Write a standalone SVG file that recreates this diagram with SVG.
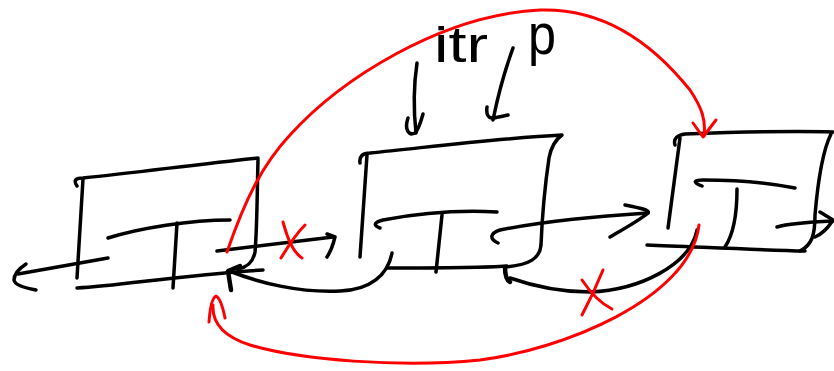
<svg xmlns="http://www.w3.org/2000/svg" width="834" height="371" viewBox="0 0 834 371">
<style>
.k{fill:none;stroke:#000;stroke-width:3.5;stroke-linecap:round;stroke-linejoin:round}
.r{fill:none;stroke:#f00;stroke-width:3;stroke-linecap:round;stroke-linejoin:round}
.t{font-family:"Liberation Sans","DejaVu Sans",sans-serif;fill:#000}
</style>
<rect width="834" height="371" fill="#fff"/>
<g id="node1">
<path class="k" d="M77,186 C73,180 76,178 83,178 C140,172 200,164 258,158"/>
<path class="k" d="M83,179 L77,278"/>
<path class="k" d="M258,160 C257,200 257,230 255,252 C253,262 248,267 238,269"/>
<path class="k" d="M77,288 C120,286 180,275 263,270"/>
<path class="k" d="M108,238 C140,228 190,220 230,220"/>
<path class="k" d="M177,223 L173,288"/>
</g>
<g id="node2">
<path class="k" d="M360,163 C359,156 363,153 370,153 C430,147 500,138 562,135 C555,140 551,147 549,158 C545,185 542,220 541,245 C540,258 530,265 505,267"/>
<path class="k" d="M367,155 L360,257"/>
<path class="k" d="M388,268 C430,268 480,268 507,266"/>
<path class="k" d="M380,228 C372,225 375,222 383,220 C420,213 460,210 497,212"/>
<path class="k" d="M442,215 L436,272"/>
</g>
<g id="node3">
<path class="k" d="M675,145 C673,138 678,135 685,134 C740,132 800,131 833,132"/>
<path class="k" d="M831,134 C823,150 818,180 815,215 C815,235 812,245 800,251"/>
<path class="k" d="M680,138 L668,228"/>
<path class="k" d="M647,245 C700,247 760,250 805,251"/>
<path class="k" d="M702,186 C692,182 694,180 703,180 C740,180 770,183 795,188"/>
<path class="k" d="M737,189 C737,215 733,235 725,247"/>
</g>
<g id="labels">
<text class="t" x="434" y="62" font-size="50" textLength="54" lengthAdjust="spacingAndGlyphs">itr</text>
<text class="t" x="528" y="54" font-size="58" textLength="28" lengthAdjust="spacingAndGlyphs">p</text>
</g>
<g id="connectors">
<path class="k" d="M108,258 L18,274"/>
<path class="k" d="M26,264 C20,268 14,274 14,280 C15,285 22,287 36,290"/>
<path class="k" d="M217,251 L333,237"/>
<path class="k" d="M327,234 L335,237 C333,245 331,251 327,257"/>
<path class="k" d="M392,253 C388,275 370,290 340,291 C300,293 260,283 232,272"/>
<path class="k" d="M240,266 L228,271 L231,290" style="stroke-width:4.5"/>
<path class="k" d="M498,243 C489,239 490,233 500,230 C540,222 600,216 648,213"/>
<path class="k" d="M625,205 C640,208 650,210 648,213 C640,220 622,230 610,237"/>
<path class="k" d="M697,230 C690,265 640,290 590,292 C560,292 530,285 510,278"/>
<path class="k" d="M505,267 C505,275 506,280 510,282" style="stroke-width:4.5"/>
<path class="k" d="M777,227 C790,223 810,222 833,221"/>
<path class="k" d="M820,212 L833,220 C828,228 822,234 815,237"/>
<path class="k" d="M417,63 C413,90 414,115 416,133"/>
<path class="k" d="M408,118 C404,130 409,136 415,133 C419,129 421,121 423,114"/>
<path class="k" d="M513,48 C505,70 498,95 493,120"/>
<path class="k" d="M487,107 C486,114 488,119 494,118 C499,117 504,116 508,115"/>
<path class="r" d="M227,252 C245,200 262,165 290,135 C340,80 440,15 540,10 C600,8 650,40 690,90 C702,108 706,120 704,136"/>
<path class="r" d="M693,123 L703,137 L716,120"/>
<path class="r" d="M699,225 C690,300 560,350 480,360 C400,368 300,360 250,345 C222,336 212,322 213,305"/>
<path class="r" d="M209,322 C210,308 212,298 216,296 C220,298 223,308 225,318"/>
<path class="r" d="M283,222 C288,240 293,252 302,258"/>
<path class="r" d="M305,225 C295,235 287,248 281,258"/>
<path class="r" d="M603,270 C597,285 590,300 582,315"/>
<path class="r" d="M582,280 C590,292 600,303 612,309"/>
</g>
</svg>
